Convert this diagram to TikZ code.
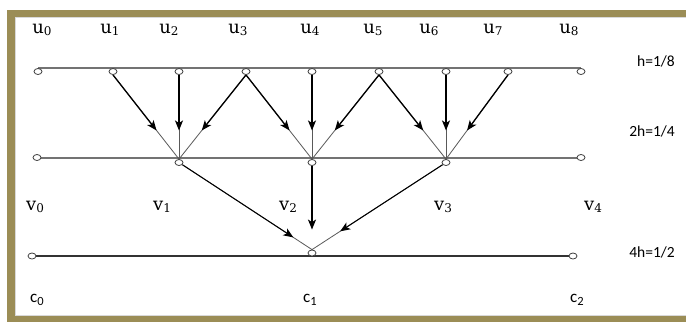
\documentclass[tikz,border=0pt]{standalone}
\usepackage{fontspec}
\setmainfont{Carlito}
\newfontfamily\serifu{DejaVu Serif}
\usetikzlibrary{arrows.meta,calc,shapes.geometric,backgrounds}
\definecolor{frameol}{RGB}{155,141,86}
\newcommand\slbl[2]{{\serifu\fontsize{18}{21}\selectfont #1\raisebox{-2pt}{\fontsize{12}{13}\selectfont #2}}}
\newcommand\clbl[2]{{\fontsize{17}{20}\selectfont #1\raisebox{-2.5pt}{\fontsize{12.5}{13}\selectfont #2}}}
\begin{document}
\begin{tikzpicture}[x=1pt,y=-1pt,
  pt/.style={ellipse, draw=black!75, fill=white, line width=0.8pt, minimum width=8pt, minimum height=6pt, inner sep=0pt},
  gline/.style={draw=black!55, line width=2pt},
  gline3/.style={draw=black!80, line width=1.4pt},
  conn/.style={draw=black!65, line width=0.8pt},
  arr/.style={draw=black, line width=1.3pt, -{Stealth[length=10pt,width=8pt,inset=2.5pt]}},
  lab/.style={inner sep=0pt, anchor=center},
  hlab/.style={inner sep=0pt, anchor=east, font=\fontsize{15.5}{18}\selectfont}]
\useasboundingbox (0,0) rectangle (686,322);
% nodes
\foreach \n/\x in {0/38,1/113,2/179,3/246,4/312,5/379,6/446,7/508,8/581}
  \node[pt] (u\n) at (\x,71.5) {};
\node[pt] (v0) at (37,157.5) {};
\node[pt] (v1) at (179,162.5) {};
\node[pt] (v2) at (312,162.5) {};
\node[pt] (v3) at (446,162.5) {};
\node[pt] (v4) at (581,157.5) {};
\node[pt] (c0) at (32,256) {};
\node[pt] (c1) at (312,253) {};
\node[pt] (c2) at (573,256) {};
\begin{scope}[on background layer]
  \fill[white] (0,0) rectangle (686,322);
  % frame bands (open on the right)
  \fill[frameol] (7,10) rectangle (686,16.5);
  \fill[frameol] (7,10) rectangle (15,322);
  \fill[frameol] (7,316) rectangle (686,322);
  \draw[black!15, line width=0.8pt] (686,17) -- (15.4,17) -- (15.4,315.6) -- (686,315.6);
  % level lines
  \draw[gline] (u0.north) -- (u8.north);
  \draw[gline] (v0) -- (v4);
  \draw[gline3] (c0) -- (c2);
  % thin connectors
  \foreach \a/\b in {1/1,2/1,3/1,3/2,4/2,5/2,5/3,6/3,7/3}
    \draw[conn] (u\a.south) -- (v\b.north);
  \draw[conn] (v1) -- (c1.north);
  \draw[conn] (v3) -- (c1.north);
  % arrows
  \foreach \a/\b in {1/1,2/1,3/1,3/2,4/2,5/2,5/3,6/3,7/3}
    \draw[arr] (u\a.south) -- ($(u\a.south)!0.66!(v\b.north)$);
  \draw[arr, line width=1pt] (v1) -- ($(v1)!0.86!(c1.north)$);
  \draw[arr] (v2) -- ($(v2)!0.77!(c1.north)$);
  \draw[arr, line width=1pt] (v3) -- ($(v3)!0.79!(c1.north)$);
\end{scope}
% labels
\foreach \n/\x in {0/42,1/110,2/169,3/238,4/310,5/373,6/429,7/493,8/569}
  \node[lab] (lu\n) at (\x,30) {\slbl{u}{\n}};
\foreach \n/\x in {0/35,1/162,2/288,3/443,4/593}
  \node[lab] (lv\n) at (\x,207) {\slbl{v}{\n}};
\node[lab] (lc0) at (37,300) {\clbl{c}{0}};
\node[lab] (lc1) at (310,300) {\clbl{c}{1}};
\node[lab] (lc2) at (577,300) {\clbl{c}{2}};
\node[hlab] (h1) at (675,61) {h=1/8};
\node[hlab] (h2) at (675,131) {2h=1/4};
\node[hlab] (h4) at (675,252) {4h=1/2};
\end{tikzpicture}
\end{document}
